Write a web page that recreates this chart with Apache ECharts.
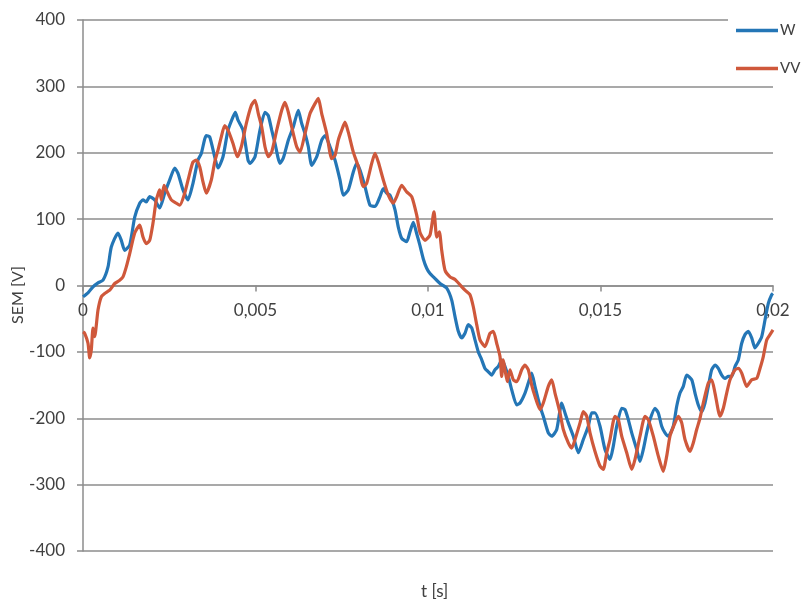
<!DOCTYPE html>
<html>
<head>
<meta charset="utf-8">
<script src="https://cdn.jsdelivr.net/npm/echarts@6/dist/echarts.min.js"></script>
<style>
html,body{margin:0;padding:0;background:#fff;}
#c{width:805px;height:602px;}
</style>
</head>
<body>
<div id="c"></div>
<script>
// time in milliseconds, values in V
var tW = [0.000,0.145,0.290,0.435,0.580,0.725,0.820,1.014,1.110,1.209,1.354,1.499,1.644,1.739,1.835,1.933,2.078,2.223,2.368,2.513,2.658,2.754,2.899,3.043,3.188,3.333,3.429,3.574,3.672,3.817,3.913,4.058,4.203,4.348,4.415,4.493,4.638,4.783,4.841,4.986,5.130,5.275,5.371,5.470,5.565,5.710,5.806,5.951,6.096,6.241,6.339,6.435,6.531,6.629,6.774,6.919,7.015,7.160,7.304,7.449,7.545,7.690,7.835,7.933,8.029,8.174,8.319,8.464,8.609,8.705,8.803,8.899,9.044,9.139,9.238,9.383,9.478,9.574,9.673,9.768,9.864,9.962,10.058,10.154,10.348,10.542,10.687,10.783,10.878,10.977,11.072,11.168,11.267,11.362,11.458,11.557,11.652,11.748,11.847,11.942,12.038,12.136,12.232,12.328,12.426,12.571,12.667,12.812,12.907,13.006,13.101,13.246,13.342,13.487,13.586,13.731,13.876,13.971,14.067,14.212,14.357,14.502,14.647,14.745,14.841,14.986,15.130,15.275,15.371,15.470,15.615,15.710,15.806,15.905,16.050,16.145,16.241,16.339,16.435,16.580,16.676,16.774,16.870,16.966,17.110,17.209,17.304,17.400,17.499,17.644,17.739,17.835,17.934,18.029,18.125,18.223,18.319,18.415,18.513,18.609,18.705,18.803,18.899,18.995,19.093,19.188,19.284,19.383,19.478,19.574,19.673,19.768,19.864,19.962,20.000];
var vW = [-17,-11,-2,4,8,28,58,79,68,53,61,103,124,129,126,134,129,117,139,159,177,169,144,129,154,189,199,226,224,194,177,194,234,254,261,249,234,189,184,194,234,261,256,234,214,184,192,219,239,264,244,229,209,181,194,219,226,209,189,159,136,144,171,184,174,149,121,119,134,146,139,136,114,88,71,66,81,95,78,60,40,26,18,13,3,-4,-22,-47,-69,-79,-72,-59,-64,-82,-100,-112,-125,-130,-135,-127,-122,-112,-122,-137,-157,-180,-177,-162,-147,-132,-152,-182,-197,-222,-227,-217,-177,-192,-207,-227,-252,-232,-212,-192,-192,-212,-247,-262,-242,-212,-185,-187,-202,-222,-247,-265,-247,-222,-202,-185,-192,-212,-222,-227,-212,-182,-162,-152,-135,-142,-162,-180,-190,-177,-152,-127,-120,-125,-135,-140,-137,-137,-122,-112,-87,-74,-69,-79,-94,-87,-77,-52,-27,-14,-12];

var tVV = [0.000,0.049,0.145,0.194,0.241,0.290,0.339,0.435,0.530,0.629,0.774,0.919,1.064,1.159,1.255,1.354,1.499,1.644,1.739,1.835,1.933,2.029,2.125,2.223,2.270,2.348,2.415,2.559,2.704,2.803,2.948,3.093,3.188,3.284,3.383,3.478,3.574,3.719,3.817,3.913,4.009,4.107,4.203,4.348,4.473,4.589,4.733,4.878,4.986,5.081,5.180,5.275,5.371,5.470,5.615,5.760,5.855,5.951,6.049,6.194,6.290,6.435,6.580,6.725,6.821,6.919,7.064,7.209,7.304,7.400,7.499,7.594,7.690,7.835,7.980,8.125,8.223,8.368,8.464,8.560,8.705,8.849,8.994,9.093,9.238,9.383,9.528,9.673,9.768,9.913,10.058,10.174,10.252,10.328,10.397,10.493,10.638,10.783,10.928,11.072,11.217,11.313,11.412,11.507,11.652,11.797,11.893,11.991,12.087,12.136,12.183,12.232,12.299,12.377,12.473,12.571,12.716,12.812,12.907,13.006,13.101,13.246,13.342,13.487,13.586,13.681,13.826,13.922,14.067,14.165,14.261,14.406,14.502,14.600,14.696,14.841,14.986,15.081,15.180,15.275,15.420,15.516,15.615,15.760,15.905,16.000,16.145,16.290,16.386,16.531,16.676,16.820,16.919,17.014,17.159,17.255,17.354,17.449,17.594,17.690,17.788,17.884,17.980,18.125,18.223,18.319,18.464,18.560,18.658,18.754,18.899,18.995,19.093,19.238,19.383,19.528,19.623,19.719,19.817,19.913,20.000];
var vVV = [-70,-72,-87,-109,-97,-64,-77,-37,-17,-12,-7,3,8,13,28,48,79,91,73,63,68,94,129,144,129,151,144,129,124,121,139,169,186,189,179,156,139,159,186,204,224,241,234,214,194,209,244,271,279,259,239,209,194,201,234,264,276,261,239,209,201,229,259,274,282,259,229,191,196,219,234,246,231,201,179,149,154,184,199,186,159,136,124,134,151,141,134,106,80,68,76,111,73,81,53,23,13,9,1,-7,-14,-32,-59,-82,-92,-72,-69,-87,-107,-137,-112,-127,-145,-127,-142,-145,-127,-120,-127,-150,-167,-187,-177,-152,-142,-162,-192,-217,-237,-245,-232,-207,-190,-197,-222,-250,-272,-277,-252,-232,-197,-202,-227,-252,-277,-262,-227,-197,-202,-227,-257,-280,-257,-227,-207,-197,-207,-232,-250,-237,-217,-200,-177,-147,-142,-162,-197,-185,-162,-142,-127,-125,-132,-152,-142,-140,-125,-107,-82,-74,-67];

var seriesNames = ['W', 'VV'];
var xTicks = [0, 0.005, 0.01, 0.015, 0.02];
var yTicks = [-400, -300, -200, -100, 0, 100, 200, 300, 400];
var xTitle = 't [s]';
var yTitle = 'SEM [V]';

function pairs(t, v) {
  var out = [];
  for (var i = 0; i < t.length; i++) out.push([t[i] / 1000, v[i]]);
  return out;
}

var FONT = 'Lato';
var TXT = '#404040';
var GRID = '#8c8c8c';
var BLUE = '#2476B6';
var RED = '#CF583B';

var GRID_TOP = 20, GRID_BOTTOM = 51, H = 602;
var plotH = H - GRID_TOP - GRID_BOTTOM;
// shift the x axis (line, ticks, labels) up to the y = 0 level
var zeroOffset = -plotH * (0 - yTicks[0]) / (yTicks[yTicks.length - 1] - yTicks[0]);

var chart = echarts.init(document.getElementById('c'), null, {renderer: 'canvas'});
chart.setOption({
  animation: false,
  backgroundColor: '#fff',
  textStyle: {fontFamily: FONT},
  title: {
    text: xTitle,
    left: 421, top: 583,
    padding: 0,
    textStyle: {fontFamily: FONT, fontSize: 17, fontWeight: 'normal', color: TXT}
  },
  graphic: [{
    type: 'text',
    x: 18, y: 295,
    rotation: Math.PI / 2,
    style: {text: yTitle, fill: TXT, font: '16px Lato', align: 'center', verticalAlign: 'middle'}
  }],
  grid: {left: 83, right: 32, top: GRID_TOP, bottom: GRID_BOTTOM, containLabel: false},
  legend: {
    data: seriesNames,
    orient: 'vertical',
    left: 728, top: 16,
    padding: [7, 4, 3, 8],
    itemGap: 23,
    icon: 'rect',
    itemWidth: 42, itemHeight: 3.5,
    backgroundColor: '#fff',
    textStyle: {fontFamily: FONT, fontSize: 15, color: TXT, lineHeight: 14, padding: [0,0,0,-3]}
  },
  xAxis: {
    type: 'value',
    position: 'bottom',
    offset: zeroOffset,
    min: xTicks[0], max: xTicks[xTicks.length - 1], interval: 0.005,
    axisLine: {onZero: false, lineStyle: {color: GRID, width: 1.5}},
    axisTick: {show: true, length: 6, lineStyle: {color: GRID, width: 1.5}},
    splitLine: {show: false},
    axisLabel: {
      margin: 17,
      fontFamily: FONT, fontSize: 17, color: TXT,
      formatter: function (v) { return String(+v.toFixed(4)).replace('.', ','); }
    }
  },
  yAxis: {
    type: 'value',
    min: yTicks[0], max: yTicks[yTicks.length - 1], interval: 100,
    axisLine: {show: true, lineStyle: {color: GRID, width: 1.5}},
    axisTick: {show: true, length: 6, lineStyle: {color: GRID, width: 1.5}},
    splitLine: {show: true, lineStyle: {color: GRID, width: 1.5}},
    axisLabel: {margin: 18, fontFamily: FONT, fontSize: 17, color: TXT}
  },
  series: [
    {
      name: seriesNames[0], type: 'line', data: pairs(tW, vW),
      symbol: 'none', smooth: 0.2,
      lineStyle: {color: BLUE, width: 3.2},
      itemStyle: {color: BLUE}
    },
    {
      name: seriesNames[1], type: 'line', data: pairs(tVV, vVV),
      symbol: 'none', smooth: 0.2,
      lineStyle: {color: RED, width: 3.2},
      itemStyle: {color: RED}
    }
  ]
});
</script>
</body>
</html>
